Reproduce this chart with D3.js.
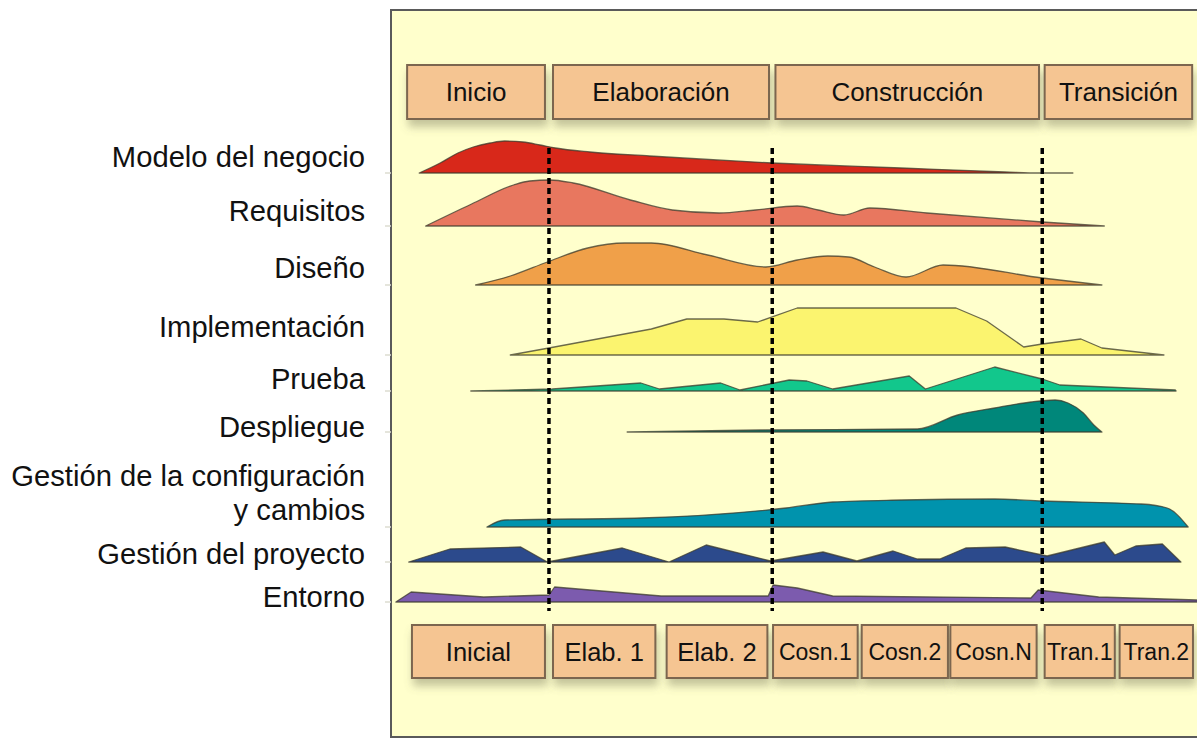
<!DOCTYPE html>
<html>
<head>
<meta charset="utf-8">
<script src="https://cdn.jsdelivr.net/npm/d3@7/dist/d3.min.js"></script>
<style>
  body { margin: 0; background: #fff; }
  text { font-family: "Liberation Sans", Arial, Helvetica, sans-serif; fill: #111; }
</style>
</head>
<body>
<script>
// RUP hump chart: disciplines vs. phases / iterations
// time runs 0..100 across the panel, effort 0..100 per discipline

var phases = ["Inicio", "Elaboración", "Construcción", "Transición"];
var phaseStart = [2.0, 20.1, 47.7, 81.1];
var phaseEnd = [19.1, 46.9, 80.4, 99.4];
var milestones = [19.6, 47.3, 80.8];

var iterations = ["Inicial", "Elab. 1", "Elab. 2", "Cosn.1", "Cosn.2", "Cosn.N", "Tran.1", "Tran.2"];
var iterStart = [2.6, 20.1, 34.2, 47.4, 58.4, 69.4, 81.1, 90.4];
var iterEnd = [19.1, 32.8, 46.7, 57.9, 69.1, 80.1, 89.8, 99.5];

var disciplines = ["Modelo del negocio", "Requisitos", "Diseño", "Implementación", "Prueba",
                   "Despliegue", "Gestión de la configuración|y cambios", "Gestión del proyecto", "Entorno"];

// [time, effort]
var modeloNegocio = [[3.5,0],[6.1,20],[8.3,40],[10.2,52],[12.3,60],[14.1,64],[16.4,62],[18.5,56],
                     [20.4,50],[24.7,42],[32.1,34],[47.3,20],[63.3,10],[76.2,2],[80.5,0],[84.6,0]];
var requisitos = [[4.3,0],[10.0,44],[15.2,82],[17.2,90],[19.7,92],[22.6,86],[29.7,52],[34.9,32],[40.7,26],
                  [45.2,32],[50.4,40],[53.0,32],[56.2,22],[59.4,36],[66.5,26],[80.8,8],[88.5,0]];
var diseno = [[10.5,0],[14.8,18],[19.4,46],[24.4,74],[29.0,84],[32.3,84],[39.3,60],[46.5,36],[50.4,50],
              [54.2,58],[56.8,56],[60.0,36],[63.9,16],[68.5,40],[80.8,14],[88.2,0]];
var implementacion = [[14.8,0],[19.6,14],[32.3,52],[36.7,72],[41.3,72],[45.5,66],[50.4,94],[70.1,94],
                      [73.9,68],[78.5,16],[80.8,22],[85.6,32],[88.2,14],[95.9,0]];
var prueba = [[9.9,0],[20,4],[31,16],[33.3,4],[40.9,16],[43.3,2],[49.4,22],[51.6,20],[54.8,4],[64.3,30],
              [66.3,4],[74.9,48],[80.8,24],[83.0,12],[97.3,2],[97.4,0]];
var despliegue = [[29.3,0],[45.8,4],[65.3,6],[70.3,34],[74.9,48],[79.4,60],[82.4,64],[84.0,58],[85.9,38],
                  [87.2,14],[88.2,0]];
var configuracion = [[11.9,0],[14.1,14],[31.0,18],[49.0,38],[54.8,50],[63.3,54],[74.9,56],[80.8,52],
                     [93.1,46],[96.3,38],[98.9,0]];
var proyecto = [[2.2,0],[7.3,26],[16.1,30],[19.4,0],[28.7,28],[34.5,0],[39.1,34],[47.1,2],[53.6,20],
                [57.8,2],[62.3,22],[65.3,6],[68.1,6],[71.3,28],[76.2,30],[81.4,12],[88.5,40],[89.8,14],
                [92.4,32],[95.7,36],[98.0,0]];
var entorno = [[0.6,0],[2.5,20],[11.5,10],[19.6,14],[20.3,30],[33.5,12],[46.8,12],[47.4,34],[50.4,28],
               [54.8,12],[79.4,8],[80.3,24],[87.8,10],[100,4],[102,0]];

var effort = [modeloNegocio, requisitos, diseno, implementacion, prueba, despliegue, configuracion, proyecto, entorno];

// ---- layout / style ----
var W = 1197, H = 738;
var colors = ["#d8281a", "#e8775f", "#f0a049", "#fbf46f", "#12c78c", "#00877a", "#0093ad", "#2c4a8c", "#7c5bae"];
var smooth = [true, true, true, false, false, true, true, false, false];
var rowBase = [173, 226, 285, 355, 391, 432, 527, 562, 602];
var labelBase = [167, 221, 278, 337, 389, 437, 486, 564, 607];

var svg = d3.select("body").append("svg")
    .attr("width", W).attr("height", H);

var defs = svg.append("defs");
var shadow = defs.append("filter").attr("id", "shadow")
    .attr("x", "-10%").attr("y", "-20%").attr("width", "125%").attr("height", "160%");
shadow.append("feDropShadow").attr("dx", 2).attr("dy", 7).attr("stdDeviation", 4)
    .attr("flood-color", "#6b6b50").attr("flood-opacity", 0.4);

var x = d3.scaleLinear().domain([0, 100]).range([391, 1197]);
var h = d3.scaleLinear().domain([0, 100]).range([0, 50]);

// panel
svg.append("rect")
    .attr("x", 391).attr("y", 10).attr("width", 900).attr("height", 727)
    .attr("fill", "#ffffcc").attr("stroke", "#5a5a5a").attr("stroke-width", 2);

// faint ticks at the discipline baselines
svg.selectAll(".tick").data(rowBase).enter().append("line")
    .attr("x1", 385).attr("x2", 391)
    .attr("y1", function(d){ return d; }).attr("y2", function(d){ return d; })
    .attr("stroke", "#dcdcd0").attr("stroke-width", 1.5);

// phase / iteration boxes
function boxes(names, starts, ends, y0, y1, sizes){
    var g = svg.append("g");
    var b = g.selectAll("g").data(names).enter().append("g");
    b.append("rect")
        .attr("x", function(d, i){ return x(starts[i]); })
        .attr("width", function(d, i){ return x(ends[i]) - x(starts[i]); })
        .attr("y", y0).attr("height", y1 - y0)
        .attr("fill", "#f5c592").attr("stroke", "#7b6650").attr("stroke-width", 2)
        .attr("filter", "url(#shadow)");
    b.append("text")
        .attr("x", function(d, i){ return (x(starts[i]) + x(ends[i])) / 2; })
        .attr("y", function(d, i){ return (y0 + y1) / 2 + sizes(i) * 0.36; })
        .attr("text-anchor", "middle")
        .style("font-size", function(d, i){ return sizes(i) + "px"; })
        .text(function(d){ return d; });
}
boxes(phases, phaseStart, phaseEnd, 65, 119, function(){ return 26; });
boxes(iterations, iterStart, iterEnd, 625, 678, function(i){ return i < 3 ? 25.5 : 23; });

// discipline humps
effort.forEach(function(pts, i){
    var base = rowBase[i];
    var area = d3.area()
        .x(function(d){ return x(d[0]); })
        .y0(base)
        .y1(function(d){ return base - h(d[1]); })
        .curve(smooth[i] ? d3.curveMonotoneX : d3.curveLinear);
    svg.append("path")
        .datum(pts)
        .attr("d", area)
        .attr("fill", colors[i])
        .attr("stroke", "#3b3a2c").attr("stroke-opacity", 0.75)
        .attr("stroke-width", 1.3).attr("stroke-linejoin", "round");
});

// milestone lines
svg.selectAll(".milestone").data(milestones).enter().append("line")
    .attr("x1", function(d){ return x(d); }).attr("x2", function(d){ return x(d); })
    .attr("y1", 148).attr("y2", 611)
    .attr("stroke", "#000").attr("stroke-width", 3.5)
    .attr("stroke-dasharray", "6 4");

// discipline labels
disciplines.forEach(function(name, i){
    var lines = name.split("|");
    var t = svg.append("text")
        .attr("x", 365).attr("y", labelBase[i])
        .attr("text-anchor", "end")
        .style("font-size", "29.2px");
    lines.forEach(function(l, j){
        t.append("tspan").attr("x", 365).attr("dy", j ? 34 : 0).text(l);
    });
});
</script>
</body>
</html>
